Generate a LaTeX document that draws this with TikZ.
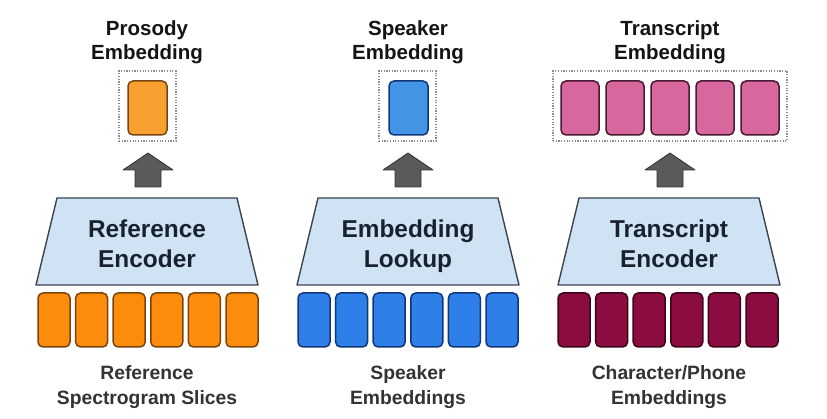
\documentclass[tikz,border=0pt]{standalone}
\usepackage{fontspec}
\setmainfont{Liberation Sans}
\definecolor{orangeA}{HTML}{FB8C0C}
\definecolor{orangeB}{HTML}{F7A030}
\definecolor{orangeEdge}{HTML}{7A4410}
\definecolor{blueA}{HTML}{2F7FE8}
\definecolor{blueB}{HTML}{4494E6}
\definecolor{blueEdge}{HTML}{10367A}
\definecolor{pinkA}{HTML}{D8679E}
\definecolor{pinkEdge}{HTML}{4A1A32}
\definecolor{maroonA}{HTML}{8A0C40}
\definecolor{maroonEdge}{HTML}{3C0618}
\definecolor{encFill}{HTML}{CFE3F5}
\definecolor{encEdge}{HTML}{3A4450}
\definecolor{arrowFill}{HTML}{5A5A5A}
\definecolor{arrowEdge}{HTML}{333333}
\definecolor{labelInk}{HTML}{333333}
\definecolor{encInk}{HTML}{17222E}
\definecolor{dotInk}{HTML}{8C8C8C}
\begin{document}
\begin{tikzpicture}[x=1pt,y=-1pt,
  cell/.style={draw, line width=1.5pt, rounded corners=5pt, inner sep=0pt},
  barcell/.style={cell, minimum width=32pt, minimum height=54pt},
  embcell/.style={cell, minimum width=39pt, minimum height=54pt},
  holder/.style={draw=dotInk, line width=1.5pt, dash pattern=on 1.2pt off 1.5pt,
    inner sep=0pt, minimum height=70pt},
  encoder/.style={fill=encFill, draw=encEdge, line width=1.4pt, line join=round},
  blockarrow/.style={fill=arrowFill, draw=arrowEdge, line width=0.8pt, line join=round},
  titletext/.style={anchor=base, inner sep=0pt, font=\bfseries\fontsize{20.5}{24}\selectfont, text=black!92},
  enctext/.style={anchor=base, inner sep=0pt, font=\bfseries\fontsize{24.4}{30}\selectfont, text=encInk},
  inputtext/.style={anchor=base, inner sep=0pt, font=\bfseries\fontsize{19.3}{25}\selectfont, text=labelInk}
]
\useasboundingbox[fill=white] (0,0) rectangle (827,419);

% ---------- three encoder blocks (trapezia) ----------
\foreach \cx/\nm in {147/encL, 408/encM, 669/encR}{
  \draw[encoder] (\cx-111,285) -- (\cx-90,198) -- (\cx+90,198) -- (\cx+111,285) -- cycle;
  \coordinate (\nm) at (\cx,241);
}
\node[enctext] (encLa) at (147,238) {Reference};
\node[enctext] (encLb) at (147,268) {Encoder};
\node[enctext] (encMa) at (408,238) {Embedding};
\node[enctext] (encMb) at (408,268) {Lookup};
\node[enctext] (encRa) at (669,238) {Transcript};
\node[enctext] (encRb) at (669,268) {Encoder};

% ---------- input sequences ----------
\foreach \i in {0,...,5}{
  \node[barcell, fill=orangeA, draw=orangeEdge] (inL\i) at ({54+\i*37.6},320) {};
  \node[barcell, fill=blueA, draw=blueEdge] (inM\i) at ({314+\i*37.6},320) {};
  \node[barcell, fill=maroonA, draw=maroonEdge] (inR\i) at ({574+\i*37.6},320) {};
}

% ---------- block arrows from encoder to embedding ----------
\foreach \cx in {148,408,670}{
  \draw[blockarrow] (\cx-13,187) -- (\cx-13,170) -- (\cx-25,170) -- (\cx,153)
    -- (\cx+25,170) -- (\cx+13,170) -- (\cx+13,187) -- cycle;
}

% ---------- output embeddings ----------
\node[holder, minimum width=57pt] (holdL) at (147.5,106) {};
\node[embcell, fill=orangeB, draw=orangeEdge] (embL) at (147.5,108) {};
\node[holder, minimum width=57pt] (holdM) at (407.5,106) {};
\node[embcell, fill=blueB, draw=blueEdge] (embM) at (408.5,108) {};
\node[holder, minimum width=234pt] (holdR) at (670,106) {};
\foreach \i in {0,...,4}{
  \node[cell, fill=pinkA, draw=pinkEdge, minimum width=38pt, minimum height=54pt]
    (embR\i) at ({580+\i*45},108) {};
}

% ---------- titles ----------
\node[titletext] (tL1) at (147,36) {Prosody};
\node[titletext] (tL2) at (147,60) {Embedding};
\node[titletext] (tM1) at (408,36) {Speaker};
\node[titletext] (tM2) at (408,60) {Embedding};
\node[titletext] (tR1) at (670,36) {Transcript};
\node[titletext] (tR2) at (670,60) {Embedding};

% ---------- input labels ----------
\node[inputtext] (bL1) at (147,379) {Reference};
\node[inputtext] (bL2) at (147,404) {Spectrogram Slices};
\node[inputtext] (bM1) at (408,379) {Speaker};
\node[inputtext] (bM2) at (408,404) {Embeddings};
\node[inputtext] (bR1) at (669,379) {Character/Phone};
\node[inputtext] (bR2) at (669,404) {Embeddings};
\end{tikzpicture}
\end{document}
